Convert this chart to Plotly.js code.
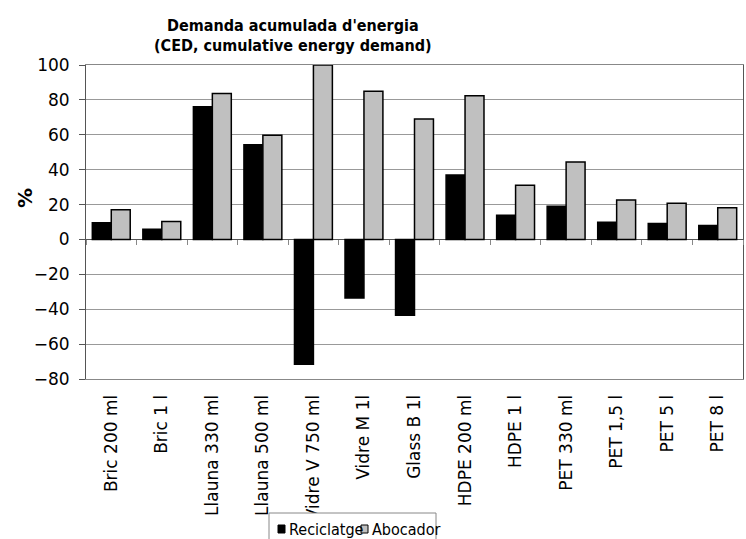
<!DOCTYPE html>
<html><head><meta charset="utf-8">
<script src="https://cdn.plot.ly/plotly-3.0.1.min.js"></script>
<style>body{margin:0;padding:0;background:#fff}#chart{width:746px;height:539px}</style>
</head><body><div id="chart"></div>
<script>
const categories = ["Bric 200 ml","Bric 1 l","Llauna 330 ml","Llauna 500 ml","Vidre V 750 ml","Vidre M 1l","Glass B 1l","HDPE 200 ml","HDPE 1 l","PET 330 ml","PET 1,5 l","PET 5 l","PET 8 l"];
const reciclatge = [9.6, 5.9, 76.1, 54.3, -71.5, -33.5, -43.4, 36.9, 13.8, 19.1, 9.8, 9.2, 8.0];
const abocador = [17.0, 10.3, 83.6, 59.8, 100, 84.9, 69.0, 82.4, 31.0, 44.4, 22.6, 20.7, 18.2];
const seriesNames = ["Reciclatge", "Abocador"];
const seriesColors = ["#000000", "#c0c0c0"];
const titleLines = ["Demanda acumulada d'energia", "(CED, cumulative energy demand)"];
const yTitle = "%";

const FONT = "DejaVu Sans";
const NARROW = "DejaVu Sans Condensed, DejaVu Sans, sans-serif";
const W = 746, H = 539, L = 86, R = 3, T = 65, B = 160;
const pw = W - L - R, ph = H - T - B;
const px = x => (x - L) / pw;
const py = y => (H - B - y) / ph;

const traces = [
  {type:'bar', name:seriesNames[0], x:categories, y:reciclatge, marker:{color:seriesColors[0], line:{color:'#000000', width:1.5}}},
  {type:'bar', name:seriesNames[1], x:categories, y:abocador, marker:{color:seriesColors[1], line:{color:'#000000', width:1.5}}},
  {type:'bar', x:categories, y:categories.map(()=>null), xaxis:'x2', showlegend:false, hoverinfo:'skip'}
];

// custom compact legend (box, swatches, labels)
const legendBox = {x0:269, x1:436, y0:513, y1:548};
const swatchX = [278, 361];
const labelX = [287, 370];
const legendY = 529;
const shapes = [
  {type:'rect', xref:'paper', yref:'paper', x0:px(legendBox.x0), x1:px(legendBox.x1), y0:py(legendBox.y0), y1:py(legendBox.y1), line:{color:'#888', width:1}, fillcolor:'#ffffff', layer:'above'}
];
const annotations = [
  {text:'<b>'+yTitle+'</b>', xref:'paper', yref:'paper', x:px(25), y:py(198), xanchor:'center', yanchor:'middle', textangle:-90, showarrow:false, font:{size:20, family:FONT}},
  {text:'<b>'+titleLines[0]+'</b>', xref:'paper', yref:'paper', x:px(293), y:py(25), xanchor:'center', yanchor:'middle', showarrow:false, font:{size:16, family:NARROW}},
  {text:'<b>'+titleLines[1]+'</b>', xref:'paper', yref:'paper', x:px(293), y:py(45), xanchor:'center', yanchor:'middle', showarrow:false, font:{size:16, family:NARROW}}
];
seriesNames.forEach((n, i) => {
  shapes.push({type:'rect', xref:'paper', yref:'paper', x0:px(swatchX[i]), x1:px(swatchX[i]+7), y0:py(legendY-4), y1:py(legendY+4), line:{color:'#000', width:1}, fillcolor:seriesColors[i], layer:'above'});
  annotations.push({text:n, xref:'paper', yref:'paper', x:px(labelX[i]), y:py(legendY), xanchor:'left', yanchor:'middle', showarrow:false, font:{size:16, family:NARROW}});
});

const layout = {
  width:W, height:H,
  margin:{l:L, r:R, t:T, b:B, autoexpand:false},
  paper_bgcolor:'#ffffff', plot_bgcolor:'#ffffff',
  font:{family:FONT, color:'#000', size:17},
  barmode:'group', bargap:0.25, bargroupgap:0,
  showlegend:false,
  xaxis:{type:'category', showgrid:false, zeroline:false, showline:true, linecolor:'#888', mirror:true, ticks:'', tickangle:-90, tickfont:{size:17}, ticklabelstandoff:8, automargin:false},
  xaxis2:{type:'category', overlaying:'x', anchor:'free', position:80/180, matches:'x', showticklabels:false, showgrid:false, zeroline:false, showline:false, ticks:'outside', ticklen:5, tickcolor:'#888', tickson:'boundaries'},
  yaxis:{range:[-80,100], dtick:20, showgrid:true, gridcolor:'#999', gridwidth:1, zeroline:true, zerolinecolor:'#555', zerolinewidth:1.5, showline:true, linecolor:'#555', mirror:true, ticks:'outside', ticklen:6, tickcolor:'#555', tickfont:{size:17}, ticklabelstandoff:6, automargin:false},
  shapes:shapes,
  annotations:annotations
};
Plotly.newPlot('chart', traces, layout, {displayModeBar:false, staticPlot:true});
</script></body></html>
